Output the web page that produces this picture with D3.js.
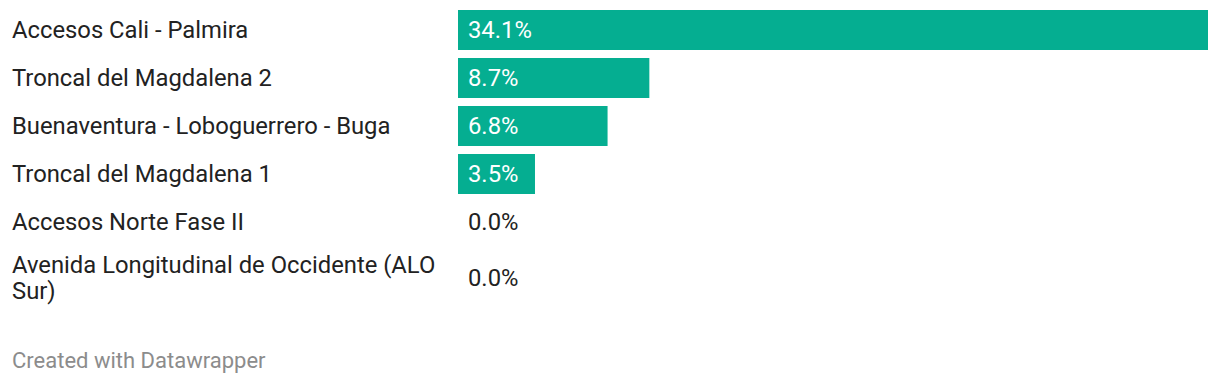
<!DOCTYPE html>
<html>
<head>
<meta charset="utf-8">
<script src="https://cdn.jsdelivr.net/npm/d3@7"></script>
<style>
  body { margin: 0; background: #fff; font-family: Roboto, sans-serif; }
  svg text { font-family: Roboto, sans-serif; }
</style>
</head>
<body>
<div class="chart"></div>
<script>
// data
const categories = [
  "Accesos Cali - Palmira",
  "Troncal del Magdalena 2",
  "Buenaventura - Loboguerrero - Buga",
  "Troncal del Magdalena 1",
  "Accesos Norte Fase II",
  "Avenida Longitudinal de Occidente (ALO Sur)"
];
const values = [34.1, 8.7, 6.8, 3.5, 0.0, 0.0];
const footerText = "Created with Datawrapper";

let width = 1220, height = 384;
let labelX = 12, labelWidth = 432;
let barX = 458, barRight = 1208;
let barHeight = 40, rowGap = 8, lineHeight = 26;
let fontSize = 23.8;

let svg = d3.select('div.chart').append('svg')
  .attr('width', width)
  .attr('height', height);

let x = d3.scaleLinear()
  .domain([0, d3.max(values)])
  .range([barX, barRight]);

// draw labels first so we know how many lines each takes
let rows = svg.append('g').attr('class', 'rows');
let y = 10;
categories.forEach(function (name, i) {
  let g = rows.append('g');
  let label = g.append('text')
    .attr('x', labelX)
    .attr('font-size', fontSize)
    .attr('fill', '#222');

  // simple word wrap
  let words = name.split(' ');
  let lines = [];
  let line = [];
  let tspan = label.append('tspan').attr('x', labelX);
  words.forEach(function (w) {
    line.push(w);
    tspan.text(line.join(' '));
    if (tspan.node().getComputedTextLength() > labelWidth && line.length > 1) {
      line.pop();
      lines.push(line.join(' '));
      line = [w];
      tspan.text(w);
    }
  });
  lines.push(line.join(' '));
  label.selectAll('tspan').remove();

  let rowH = lines.length > 1 ? barHeight + (lines.length - 1) * lineHeight - 10 : barHeight;
  let cy = y + rowH / 2;
  let firstY = cy - (lines.length - 1) * lineHeight / 2;
  lines.forEach(function (l, k) {
    label.append('tspan')
      .attr('x', labelX)
      .attr('y', firstY + k * lineHeight)
      .attr('dy', '0.35em')
      .text(l);
  });

  let v = values[i];
  g.append('rect')
    .attr('x', x(0))
    .attr('y', cy - barHeight / 2)
    .attr('width', x(v) - x(0))
    .attr('height', barHeight)
    .attr('fill', '#05ae91');

  let txt = g.append('text')
    .attr('y', cy)
    .attr('dy', '0.35em')
    .attr('font-size', fontSize)
    .text(v.toFixed(1) + '%');
  let tw = txt.node().getComputedTextLength();
  if (x(v) - x(0) > tw + 16) {
    txt.attr('x', x(0) + 10).attr('fill', '#fff');
  } else {
    txt.attr('x', x(v) + 10).attr('fill', '#222');
  }

  y += rowH + rowGap;
});

svg.append('text')
  .attr('x', labelX)
  .attr('y', 368)
  .attr('font-size', 22)
  .attr('fill', '#8c8c8c')
  .text(footerText);
</script>
</body>
</html>
